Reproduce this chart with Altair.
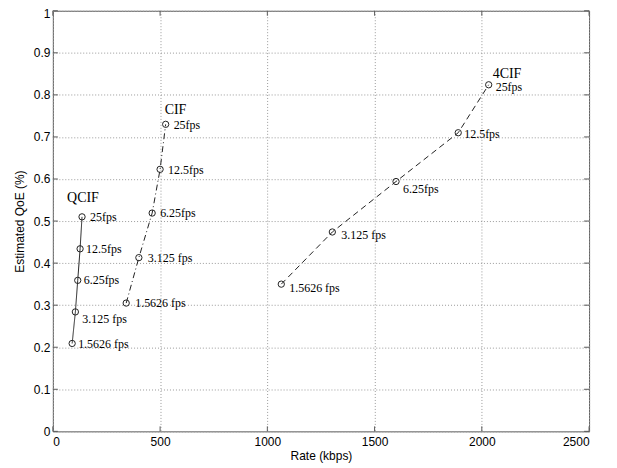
import altair as alt
import pandas as pd

# ---- data ----
series_names = ["QCIF", "CIF", "4CIF"]
fps_labels = ["1.5626 fps", "3.125 fps", "6.25fps", "12.5fps", "25fps"]
qcif_rate = [90, 105, 116, 127, 136]
qcif_qoe = [0.209, 0.284, 0.359, 0.434, 0.510]
cif_rate = [342, 401, 463, 500, 526]
cif_qoe = [0.305, 0.413, 0.519, 0.623, 0.730]
cif4_rate = [1065, 1303, 1600, 1890, 2032]
cif4_qoe = [0.350, 0.474, 0.594, 0.710, 0.824]
x_ticks = [0, 500, 1000, 1500, 2000, 2500]
y_ticks = [0, 0.1, 0.2, 0.3, 0.4, 0.5, 0.6, 0.7, 0.8, 0.9, 1]

# ---- styles (label offsets in px, line dashes) ----
label_offsets = {
    "QCIF": [(6, 1), (7, 7), (6, 0), (6, 0), (8, 0)],
    "CIF": [(9, 0), (9, 0), (8, 0), (8, 1), (8, 1)],
    "4CIF": [(8, 4), (9, 3), (7, 8), (6, 1), (7, 2)],
}
title_offsets = {"QCIF": (-15, -19), "CIF": (-1, -14), "4CIF": (4, -11)}
dashes = {"QCIF": [1, 0], "CIF": [6, 3, 1, 3], "4CIF": [6, 4]}

rates = {"QCIF": qcif_rate, "CIF": cif_rate, "4CIF": cif4_rate}
qoes = {"QCIF": qcif_qoe, "CIF": cif_qoe, "4CIF": cif4_qoe}

W, H = 538, 422
INK = "#222222"
AX = "#5a5a5a"
SANS = "Liberation Sans"
SERIF = "Liberation Serif"

xscale = alt.Scale(domain=[0, 2500], nice=False, zero=False)
yscale = alt.Scale(domain=[0, 1], nice=False, zero=False)

layers = []

# inward tick marks on all four sides
xt = pd.DataFrame({"v": x_ticks})
yt = pd.DataFrame({"v": y_ticks})
tick_style = dict(color=AX, strokeWidth=1)
layers.append(alt.Chart(xt).mark_rule(**tick_style).encode(
    x=alt.X("v:Q", scale=xscale, axis=alt.Axis(
        values=x_ticks, format="d", title="Rate (kbps)", grid=True,
        gridDash=[1, 2], gridColor="#9a9a9a", ticks=False, domain=False,
        labelFont=SANS, labelFontSize=12, labelColor="black", labelPadding=5,
        titleFont=SANS, titleFontSize=12, titleFontWeight="normal",
        titleColor="black", titlePadding=3)),
    y=alt.value(H), y2=alt.value(H - 5)))
layers.append(alt.Chart(xt).mark_rule(**tick_style).encode(
    x=alt.X("v:Q", scale=xscale), y=alt.value(0), y2=alt.value(5)))
layers.append(alt.Chart(yt).mark_rule(**tick_style).encode(
    y=alt.Y("v:Q", scale=yscale, axis=alt.Axis(
        values=y_ticks, format="~g", title="Estimated QoE (%)", grid=True,
        gridDash=[1, 2], gridColor="#9a9a9a", ticks=False, domain=False,
        labelFont=SANS, labelFontSize=12, labelColor="black", labelPadding=3,
        labelOffset={"condition": {"test": "datum.value == 1", "value": 3}, "value": 0},
        titleFont=SANS, titleFontSize=12, titleFontWeight="normal",
        titleColor="black", titlePadding=7)),
    x=alt.value(0), x2=alt.value(5)))
layers.append(alt.Chart(yt).mark_rule(**tick_style).encode(
    y=alt.Y("v:Q", scale=yscale), x=alt.value(W), x2=alt.value(W - 5)))

for s in series_names:
    df = pd.DataFrame({"rate": rates[s], "qoe": qoes[s], "fps": fps_labels})
    enc = dict(x=alt.X("rate:Q", scale=xscale), y=alt.Y("qoe:Q", scale=yscale))
    layers.append(alt.Chart(df).mark_line(
        color=INK, strokeWidth=1, strokeDash=dashes[s]).encode(**enc, order="rate:Q"))
    layers.append(alt.Chart(df).mark_point(
        shape="circle", filled=False, size=40, color=INK, strokeWidth=1,
        opacity=1).encode(**enc))
    for i in range(len(df)):
        dx, dy = label_offsets[s][i]
        layers.append(alt.Chart(df.iloc[[i]]).mark_text(
            align="left", baseline="middle", dx=dx, dy=dy, font=SERIF,
            fontSize=12, color="black").encode(**enc, text="fps:N"))
    tdx, tdy = title_offsets[s]
    tdf = pd.DataFrame({"rate": [rates[s][-1]], "qoe": [qoes[s][-1]], "name": [s]})
    layers.append(alt.Chart(tdf).mark_text(
        align="left", baseline="middle", dx=tdx, dy=tdy, font=SERIF,
        fontSize=14, color="black").encode(
        x=alt.X("rate:Q", scale=xscale), y=alt.Y("qoe:Q", scale=yscale),
        text="name:N"))

chart = alt.layer(*layers).properties(
    width=W, height=H,
    autosize=alt.AutoSizeParams(type="none"),
    padding={"left": 45, "top": 2, "right": 20, "bottom": 36},
    background="white",
).configure_view(stroke=AX, strokeWidth=1)

chart.save("out.html", embed_options={"renderer": "svg", "actions": False})
